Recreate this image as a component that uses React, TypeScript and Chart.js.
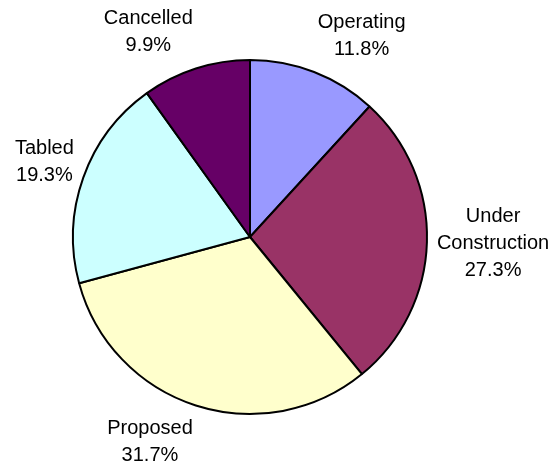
import React, { useEffect, useRef } from "react";
import { Chart, registerables } from "chart.js";

Chart.register(...registerables);

// Project status shares, clockwise from 12 o'clock
const categories: string[][] = [
  ["Operating"],
  ["Under", "Construction"],
  ["Proposed"],
  ["Tabled"],
  ["Cancelled"],
];
const shares = [11.8, 27.3, 31.7, 19.3, 9.9];
const sliceColors = ["#9999FF", "#993366", "#FFFFCC", "#CCFFFF", "#660066"];

const FONT_SIZE = 20;
const LINE_GAP = 27;
const LABEL_GAP = 10;
const clamp = (v: number) => Math.max(-1, Math.min(1, v));

// Draws each slice's name and percentage just outside the rim,
// nudged away from the pie along the slice's middle angle.
const outsideLabels = {
  id: "outsideLabels",
  afterDatasetsDraw(chart: any) {
    const ctx = chart.ctx as CanvasRenderingContext2D;
    const meta = chart.getDatasetMeta(0);
    ctx.save();
    ctx.font = `${FONT_SIZE}px "Liberation Sans", Arial, sans-serif`;
    ctx.fillStyle = "#000";
    ctx.textAlign = "center";
    ctx.textBaseline = "middle";
    meta.data.forEach((arc: any, i: number) => {
      const lines = [...categories[i], `${shares[i].toFixed(1)}%`];
      const mid = (arc.startAngle + arc.endAngle) / 2;
      const r = arc.outerRadius + LABEL_GAP;
      const px = arc.x + Math.cos(mid) * r;
      const py = arc.y + Math.sin(mid) * r;
      const w = Math.max(...lines.map((l) => ctx.measureText(l).width));
      const h = lines.length * LINE_GAP;
      const cx = px + (w / 2) * clamp(Math.cos(mid) * 4);
      const cy = py + (h / 2) * clamp(Math.sin(mid) * 1.3);
      lines.forEach((l, j) => {
        ctx.fillText(l, cx, cy - h / 2 + LINE_GAP * (j + 0.5));
      });
    });
    ctx.restore();
  },
};

export default function App() {
  const canvasRef = useRef<HTMLCanvasElement | null>(null);

  useEffect(() => {
    document.body.style.margin = "0";
    const canvas = canvasRef.current;
    if (!canvas) return;
    const chart = new Chart(canvas, {
      type: "pie",
      data: {
        labels: categories.map((c) => c.join(" ")),
        datasets: [
          {
            data: shares,
            backgroundColor: sliceColors,
            borderColor: "#000000",
            borderWidth: 2,
          },
        ],
      },
      options: {
        responsive: false,
        animation: false,
        layout: { padding: { left: 72, right: 126, top: 59, bottom: 53 } },
        plugins: {
          legend: { display: false },
          tooltip: { enabled: false },
        },
      },
      plugins: [outsideLabels],
    });
    return () => chart.destroy();
  }, []);

  return (
    <div style={{ width: 554, height: 468, background: "#fff" }}>
      <canvas ref={canvasRef} width={554} height={468} />
    </div>
  );
}
